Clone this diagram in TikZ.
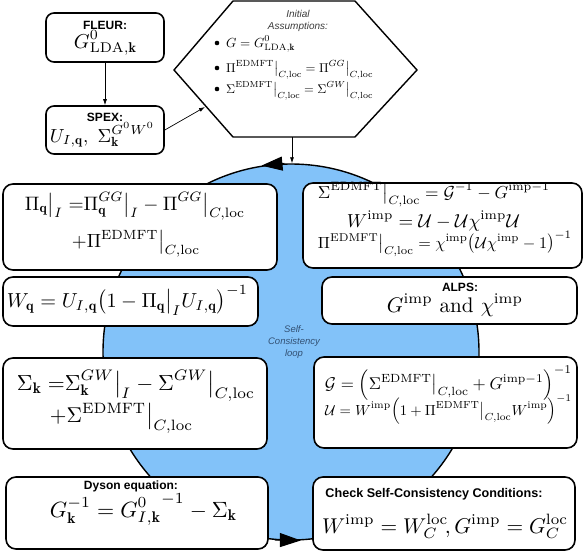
\documentclass[tikz,border=0pt]{standalone}
\usepackage{amsmath,amssymb}
\usepackage{graphicx}
\usepackage{fontspec}
\setsansfont{Liberation Sans}
\usetikzlibrary{arrows.meta}
\definecolor{loopblue}{RGB}{130,194,249}
\definecolor{looptext}{RGB}{50,80,115}
\definecolor{hextext}{RGB}{60,60,60}
\newcommand{\rz}[2]{\resizebox{#1pt}{!}{$\displaystyle #2$}}
\begin{document}
\begin{tikzpicture}[x=1pt,y=-1pt,
  box/.style={draw, line width=1.6pt, rounded corners=10pt, fill=white, inner sep=0pt},
  smallbox/.style={box, rounded corners=8pt},
  lbl/.style={font=\sffamily\bfseries\fontsize{12}{14}\selectfont, inner sep=0pt},
  eq/.style={inner sep=0pt, anchor=base},
  heq/.style={inner sep=0pt, anchor=base west},
  bul/.style={circle, fill=black, inner sep=0pt, minimum size=4.6pt},
  conn/.style={line width=0.7pt, -{Latex[length=6pt,width=4pt]}},
  looparrow/.style={line width=1pt, -{Triangle[length=21pt,width=14pt]}}
]
\useasboundingbox (0,0) rectangle (584,555);

% self-consistency loop
\node[circle, draw, line width=1.4pt, fill=loopblue, minimum size=376pt, inner sep=0pt] (loop) at (291,352) {};
\draw[looparrow] (loop.92) -- (loop.99);
\draw[looparrow] (loop.265.7) -- (loop.273.3);
\node[font=\sffamily\itshape\fontsize{9.5}{12}\selectfont, text=looptext, align=center, inner sep=0pt] (looplbl) at (294,342) {Self-\\Consistency\\loop};

% hexagon
\draw[line width=1.4pt, fill=white] (174,70) -- (233,1) -- (355,1) -- (417,70) -- (355,137) -- (233,137) -- cycle;
\coordinate (hexin) at (205,107);
\coordinate (hexB) at (292,137);
\node[font=\sffamily\itshape\fontsize{10}{12}\selectfont, text=hextext, align=center, inner sep=0pt] (init) at (298,21) {Initial\\Assumptions:};
\node[bul] (d1) at (217,43) {};
\node[bul] (d2) at (217,68) {};
\node[bul] (d3) at (217,89) {};
\node[heq] (b1) at (226,47) {\rz{69}{G = G^0_{\mathrm{LDA},\mathbf{k}}}};
\node[heq] (b2) at (226,72) {\rz{147}{\Pi^{\mathrm{EDMFT}}\big|_{C,\mathrm{loc}} = \Pi^{GG}\big|_{C,\mathrm{loc}}}};
\node[heq] (b3) at (226,93) {\rz{147}{\Sigma^{\mathrm{EDMFT}}\big|_{C,\mathrm{loc}} = \Sigma^{GW}\big|_{C,\mathrm{loc}}}};

% FLEUR and SPEX
\node[smallbox, minimum width=118pt, minimum height=49pt] (fleur) at (105,37.5) {};
\node[lbl] (fleurlbl) at (105,25) {FLEUR:};
\node[eq] (fleureq) at (105.5,48) {\rz{63}{G^0_{\mathrm{LDA},\mathbf{k}}}};
\node[smallbox, minimum width=118pt, minimum height=48pt] (spex) at (105,130) {};
\node[lbl] (spexlbl) at (105,117) {SPEX:};
\node[eq] (spexeq) at (102.5,142) {\rz{105}{U_{I,\mathbf{q}},\ \Sigma^{G^0W^0}_{\mathbf{k}}}};

\draw[conn] (fleur) -- (spex);
\draw[conn] (spex.east) -- (hexin);
\draw[conn] (hexB) -- (loop.north -| hexB);

% left boxes
\node[box, minimum width=274pt, minimum height=86pt] (piq) at (140,227) {};
\node[eq] (piq1) at (135,210) {\rz{220}{\Pi_{\mathbf{q}}\big|_I\;{=}\Pi^{GG}_{\mathbf{q}}\big|_I - \Pi^{GG}\big|_{C,\mathrm{loc}}}};
\node[eq] (piq2) at (136,247) {\rz{128}{+\Pi^{\mathrm{EDMFT}}\big|_{C,\mathrm{loc}}}};

\node[box, minimum width=255pt, minimum height=49pt] (wq) at (130.5,301.5) {};
\node[eq] (wqeq) at (127.5,307) {\rz{241}{W_{\mathbf{q}} = U_{I,\mathbf{q}}\bigl(1-\Pi_{\mathbf{q}}\big|_I U_{I,\mathbf{q}}\bigr)^{-1}}};

\node[box, minimum width=264pt, minimum height=91pt] (sigk) at (135,403.5) {};
\node[eq] (sigk1) at (136,390) {\rz{238}{\Sigma_{\mathbf{k}}\;{=}\Sigma^{GW}_{\mathbf{k}}\big|_I - \Sigma^{GW}\big|_{C,\mathrm{loc}}}};
\node[eq] (sigk2) at (121.5,422) {\rz{143}{+\Sigma^{\mathrm{EDMFT}}\big|_{C,\mathrm{loc}}}};

\node[box, minimum width=262pt, minimum height=72pt] (dyson) at (137,513) {};
\node[lbl] (dysonlbl) at (131,486) {Dyson equation:};
\node[eq] (dysoneq) at (143.5,517) {\rz{187}{G^{-1}_{\mathbf{k}} = {G^0_{I,\mathbf{k}}}^{-1} - \Sigma_{\mathbf{k}}}};

% right boxes
\node[box, minimum width=279pt, minimum height=85pt] (sedm) at (442.5,225.5) {};
\node[eq] (sedm1) at (434,198) {\rz{232}{\Sigma^{\mathrm{EDMFT}}\big|_{C,\mathrm{loc}} = \mathcal{G}^{-1} - G^{\mathrm{imp}-1}}};
\node[eq] (sedm2) at (433.5,227) {\rz{173}{W^{\mathrm{imp}} = \mathcal{U} - \mathcal{U}\chi^{\mathrm{imp}}\mathcal{U}}};
\node[eq] (sedm3) at (445,248) {\rz{254}{\Pi^{\mathrm{EDMFT}}\big|_{C,\mathrm{loc}} = \chi^{\mathrm{imp}}\bigl(\mathcal{U}\chi^{\mathrm{imp}}-1\bigr)^{-1}}};

\node[box, minimum width=255pt, minimum height=47pt] (alps) at (449.5,300.5) {};
\node[lbl] (alpslbl) at (460,287) {ALPS:};
\node[eq] (alpseq) at (455,312) {\rz{136}{G^{\mathrm{imp}}\ \text{and}\ \chi^{\mathrm{imp}}}};

\node[box, minimum width=263pt, minimum height=91pt] (gu) at (445.5,402.5) {};
\node[eq] (gu1) at (448.5,389) {\rz{247}{\mathcal{G} = \Bigl(\Sigma^{\mathrm{EDMFT}}\big|_{C,\mathrm{loc}} + G^{\mathrm{imp}-1}\Bigr)^{-1}}};
\node[eq] (gu2) at (448.5,415) {\rz{247}{\mathcal{U} = W^{\mathrm{imp}}\Bigl(1+\Pi^{\mathrm{EDMFT}}\big|_{C,\mathrm{loc}}W^{\mathrm{imp}}\Bigr)^{-1}}};

\node[box, minimum width=262pt, minimum height=73pt] (check) at (444,513.5) {};
\node[lbl, font=\sffamily\bfseries\fontsize{12.6}{14}\selectfont] (checklbl) at (434,494) {Check Self-Consistency Conditions:};
\node[eq] (checkeq) at (445,533) {\rz{246}{W^{\mathrm{imp}} = W^{\mathrm{loc}}_C\!, G^{\mathrm{imp}} = G^{\mathrm{loc}}_C}};
\end{tikzpicture}
\end{document}
